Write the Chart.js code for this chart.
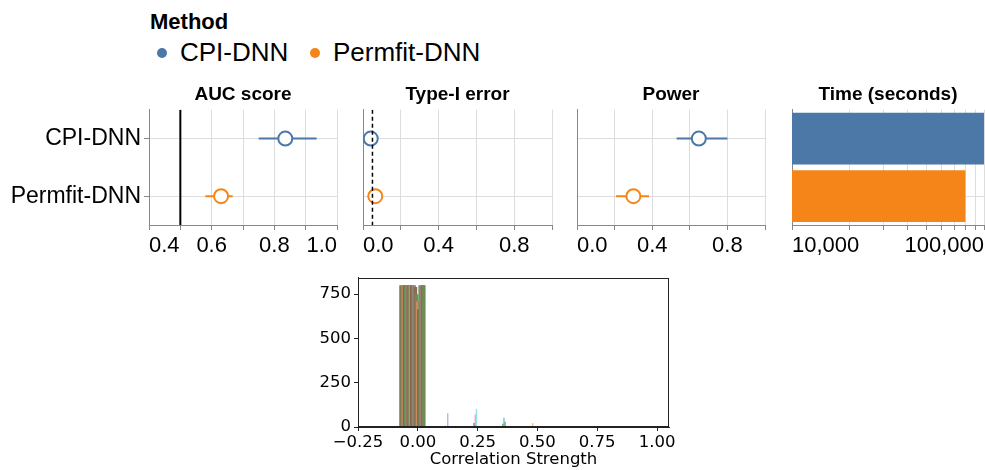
<!DOCTYPE html>
<html>
<head>
<meta charset="utf-8">
<script src="https://cdn.jsdelivr.net/npm/chart.js@4.4.1/dist/chart.umd.min.js"></script>
<style>
  html, body { margin: 0; padding: 0; background: #fff; overflow: hidden; }
  body { width: 985px; height: 470px; position: relative; font-family: 'Liberation Sans', Arial, sans-serif; color: #000; }
  canvas { position: absolute; }
  .legend-title { position: absolute; left: 150px; top: 11px; font-weight: bold; font-size: 22px; line-height: 22px; }
  .legend-item { position: absolute; top: 39px; font-size: 26px; line-height: 26px; white-space: nowrap; }
  .legend-item .dot { position: absolute; left: -23px; top: 9px; width: 10px; height: 10px; border-radius: 50%; }
</style>
</head>
<body>
<div class="legend-title">Method</div>
<div class="legend-item" style="left:180px"><span class="dot" style="background:#4c78a8"></span>CPI-DNN</div>
<div class="legend-item" style="left:333px"><span class="dot" style="background:#f58518"></span>Permfit-DNN</div>

<canvas id="aucChart" width="346" height="188" style="left:0px;top:77px"></canvas>
<canvas id="typeIChart" width="211" height="188" style="left:350px;top:77px"></canvas>
<canvas id="powerChart" width="208" height="188" style="left:566px;top:77px"></canvas>
<canvas id="timeChart" width="207" height="188" style="left:781px;top:77px"></canvas>
<canvas id="histChart" width="380" height="205" style="left:300px;top:265px"></canvas>

<script>
// methods (rows of the top panels)
const methods = ['CPI-DNN', 'Permfit-DNN'];

// AUC score: mean and interval per method
const aucMean = [0.835, 0.63];
const aucLow = [0.75, 0.58];
const aucHigh = [0.935, 0.667];
const aucChance = 0.5;

// Type-I error
const typeIMean = [0.041, 0.065];
const typeILow = [0.036, 0.058];
const typeIHigh = [0.047, 0.072];
const typeILevel = 0.05;

// Power
const powerMean = [0.648, 0.30];
const powerLow = [0.53, 0.207];
const powerHigh = [0.80, 0.383];

// Time (seconds)
const timeSeconds = [100000, 80000];

// tick values / labelled ticks
const aucTicks = [0.4, 0.5, 0.6, 0.7, 0.8, 0.9, 1.0];
const aucTickLabels = [0.4, 0.6, 0.8, 1.0];
const rateTicks = [0, 0.2, 0.4, 0.6, 0.8, 1.0];
const rateTickLabels = [0, 0.4, 0.8];
const timeTicks = [10000, 20000, 30000, 40000, 50000, 60000, 70000, 80000, 90000, 100000];
const timeTickLabels = [10000, 100000];

// histogram of correlation strength
const nullBins = [-0.070, -0.065, -0.060, -0.055, -0.050, -0.045, -0.040, -0.035, -0.030, -0.025,
                  -0.020, -0.015, -0.010, -0.005, 0.000, 0.005, 0.010, 0.015, 0.020, 0.025];
const nullCounts = [800, 800, 800, 800, 800, 800, 800, 800, 800, 800,
                    800, 800, 790, 750, 710, 665, 800, 800, 800, 800];
const signalBins = [0.110, 0.115, 0.125, 0.175, 0.235, 0.240, 0.245, 0.355, 0.360, 0.365, 0.475, 0.480, 0.600];
const signalCounts = [3, 8, 78, 2, 22, 71, 102, 18, 52, 30, 6, 23, 5];
const histXTicks = [-0.25, 0, 0.25, 0.5, 0.75, 1.0];
const histYTicks = [0, 250, 500, 750];

// colours
const methodColors = ['#4c78a8', '#f58518'];
const histPalette = ['#8c6a5a', '#6f8c55', '#c98a5c', '#8a5e50', '#5f9455', '#a97f7e'];
const signalColors = ['rgba(140,86,75,0.6)', 'rgba(255,127,14,0.5)', 'rgba(148,103,189,0.5)', 'rgba(127,127,127,0.5)',
                      'rgba(140,86,75,0.8)', 'rgba(227,119,194,0.6)', 'rgba(23,190,207,0.45)', 'rgba(44,160,44,0.7)',
                      'rgba(23,190,207,0.7)', 'rgba(140,86,75,0.6)', 'rgba(140,86,75,0.5)', 'rgba(255,127,14,0.5)',
                      'rgba(227,119,194,0.5)'];

const SANS = "'Liberation Sans', Arial, sans-serif";
Chart.defaults.font.family = SANS;
Chart.defaults.color = '#000';

function hasLabel(list, v) {
    return list.some(l => Math.abs(l - v) < 1e-9);
}

function dotPanel(id, title, mean, low, high, xTicks, xLabels, refLine, yWidth, showNames) {
    const datasets = [];
    methods.forEach((m, i) => {
        datasets.push({
            type: 'scatter',
            label: m,
            data: [{ x: mean[i], y: i }],
            pointRadius: 7,
            pointBorderWidth: 2,
            pointBorderColor: methodColors[i],
            pointBackgroundColor: '#fff',
            order: 0
        });
        datasets.push({
            type: 'line',
            data: [{ x: low[i], y: i }, { x: high[i], y: i }],
            borderColor: methodColors[i],
            borderWidth: 2,
            pointRadius: 0,
            order: 2
        });
    });
    if (refLine) {
        datasets.push({
            type: 'line',
            data: [{ x: refLine.value, y: -0.5 }, { x: refLine.value, y: 1.5 }],
            borderColor: '#000',
            borderWidth: refLine.width,
            borderDash: refLine.dash,
            pointRadius: 0,
            order: -1
        });
    }

    return new Chart(document.getElementById(id), {
        type: 'scatter',
        data: { datasets: datasets },
        options: {
            animation: false,
            responsive: false,
            events: [],
            layout: { padding: { right: 4 } },
            plugins: {
                legend: { display: false },
                tooltip: { enabled: false },
                title: {
                    display: true,
                    text: title,
                    fullSize: false,
                    color: '#000',
                    font: { size: 19, weight: 'bold' },
                    padding: { top: 6, bottom: 4 }
                }
            },
            scales: {
                x: {
                    type: 'linear',
                    min: xTicks[0],
                    max: xTicks[xTicks.length - 1],
                    afterBuildTicks: s => { s.ticks = xTicks.map(v => ({ value: v })); },
                    afterFit: s => { s.height = 40; },
                    ticks: {
                        autoSkip: false,
                        maxRotation: 0,
                        align: 'inner',
                        padding: 3,
                        font: { size: 22 },
                        callback: v => hasLabel(xLabels, v) ? v.toFixed(1) : ''
                    },
                    grid: { color: '#ddd', tickColor: '#888', tickLength: 5 },
                    border: { color: '#888' }
                },
                y: {
                    type: 'linear',
                    min: -0.5,
                    max: 1.5,
                    reverse: true,
                    afterBuildTicks: s => { s.ticks = [{ value: 0 }, { value: 1 }]; },
                    afterFit: s => { s.width = yWidth; },
                    ticks: {
                        display: showNames,
                        padding: 3,
                        font: { size: 23 },
                        callback: v => methods[v]
                    },
                    grid: { color: '#ddd', tickColor: '#888', tickLength: 5, drawTicks: showNames },
                    border: { color: '#888' }
                }
            }
        }
    });
}

dotPanel('aucChart', 'AUC score', aucMean, aucLow, aucHigh, aucTicks, aucTickLabels,
         { value: aucChance, width: 2, dash: [] }, 149, true);
dotPanel('typeIChart', 'Type-I error', typeIMean, typeILow, typeIHigh, rateTicks, rateTickLabels,
         { value: typeILevel, width: 1.5, dash: [4, 3] }, 13, false);
dotPanel('powerChart', 'Power', powerMean, powerLow, powerHigh, rateTicks, rateTickLabels,
         null, 11, false);

// Time panel: horizontal bars on a log axis
new Chart(document.getElementById('timeChart'), {
    type: 'bar',
    data: {
        labels: methods,
        datasets: [{
            data: timeSeconds,
            backgroundColor: methodColors,
            barPercentage: 0.9,
            categoryPercentage: 1
        }]
    },
    options: {
        indexAxis: 'y',
        animation: false,
        responsive: false,
        events: [],
        layout: { padding: { right: 4 } },
        plugins: {
            legend: { display: false },
            tooltip: { enabled: false },
            title: {
                display: true,
                text: 'Time (seconds)',
                fullSize: false,
                color: '#000',
                font: { size: 19, weight: 'bold' },
                padding: { top: 6, bottom: 4 }
            }
        },
        scales: {
            x: {
                type: 'logarithmic',
                min: timeTicks[0],
                max: timeTicks[timeTicks.length - 1],
                afterBuildTicks: s => { s.ticks = timeTicks.map(v => ({ value: v })); },
                afterFit: s => { s.height = 40; },
                ticks: {
                    autoSkip: false,
                    maxRotation: 0,
                    align: 'inner',
                    padding: 3,
                    font: { size: 22 },
                    callback: v => timeTickLabels.includes(v) ? v.toLocaleString('en-US') : ''
                },
                grid: { color: '#ddd', tickColor: '#888', tickLength: 5 },
                border: { color: '#888' }
            },
            y: {
                type: 'category',
                afterFit: s => { s.width = 11; },
                ticks: { display: false },
                grid: { color: '#ddd', offset: false, drawTicks: false },
                border: { color: '#888' }
            }
        }
    }
});

// histogram below (matplotlib look)
const framePlugin = {
    id: 'frame',
    afterDraw(chart) {
        const { ctx, chartArea: a } = chart;
        ctx.save();
        ctx.strokeStyle = '#222';
        ctx.lineWidth = 1;
        ctx.strokeRect(Math.round(a.left) + 0.5, Math.round(a.top) + 0.5,
                       Math.round(a.width) - 1, Math.round(a.height) - 1);
        ctx.restore();
    }
};

const DEJAVU = "'DejaVu Sans', sans-serif";
new Chart(document.getElementById('histChart'), {
    type: 'bar',
    data: {
        datasets: [
            {
                data: nullBins.map((x, i) => ({ x: x, y: nullCounts[i] })),
                backgroundColor: nullBins.map((x, i) => histPalette[i % histPalette.length]),
                grouped: false,
                barPercentage: 3,
                categoryPercentage: 1
            },
            {
                data: signalBins.map((x, i) => ({ x: x, y: signalCounts[i] })),
                backgroundColor: signalColors,
                grouped: false,
                barPercentage: 1.2,
                categoryPercentage: 1
            }
        ]
    },
    plugins: [framePlugin],
    options: {
        animation: false,
        responsive: false,
        events: [],
        layout: { padding: { top: 8, right: 11 } },
        plugins: { legend: { display: false }, tooltip: { enabled: false } },
        scales: {
            x: {
                type: 'linear',
                offset: false,
                min: -0.25,
                max: 1.05,
                afterBuildTicks: s => { s.ticks = histXTicks.map(v => ({ value: v })); },
                afterFit: s => { s.height = 43; },
                ticks: {
                    autoSkip: false,
                    maxRotation: 0,
                    padding: 2,
                    color: '#000',
                    font: { family: DEJAVU, size: 16.5 },
                    callback: v => v.toFixed(2).replace('-', '\u2212')
                },
                grid: { offset: false, drawOnChartArea: false, tickLength: 4, tickColor: '#222' },
                border: { color: '#222' },
                title: {
                    display: true,
                    text: 'Correlation Strength',
                    color: '#000',
                    font: { family: DEJAVU, size: 16.5 },
                    padding: { top: 0, bottom: 0 }
                }
            },
            y: {
                min: 0,
                max: 842,
                afterBuildTicks: s => { s.ticks = histYTicks.map(v => ({ value: v })); },
                afterFit: s => { s.width = 58; },
                ticks: {
                    padding: 3,
                    color: '#000',
                    font: { family: DEJAVU, size: 16.5 },
                    callback: v => String(v)
                },
                grid: { drawOnChartArea: false, tickLength: 4, tickColor: '#222' },
                border: { color: '#222' }
            }
        }
    }
});
</script>
</body>
</html>
